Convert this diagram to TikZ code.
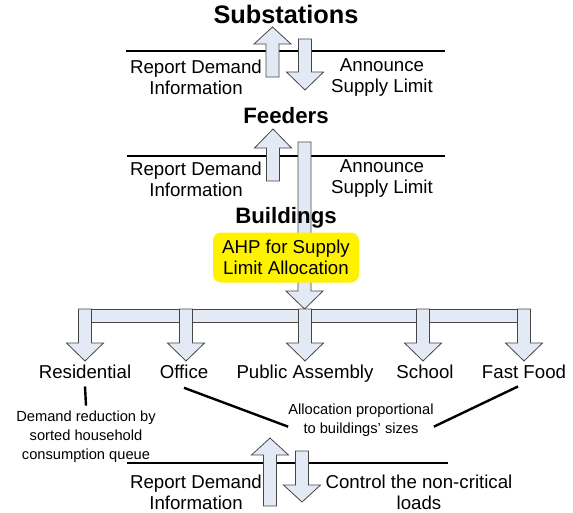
\documentclass[tikz,border=0pt]{standalone}
\usepackage{fontspec}
\setmainfont{Liberation Sans}
\usetikzlibrary{positioning}
\definecolor{arrowfill}{RGB}{228,234,245}
\definecolor{arrowline}{RGB}{70,70,70}
% block arrow: x, tail y, head base y, tip y
\newcommand{\blkarrow}[4]{%
  \draw[blk] (#1-6.5,#2) -- (#1+6.5,#2) -- (#1+6.5,#3) -- (#1+18.5,#3)
    -- (#1,#4) -- (#1-18.5,#3) -- (#1-6.5,#3) -- cycle;}

\begin{document}
\begin{tikzpicture}[x=0.75pt,y=-0.75pt,
    every node/.style={font=\fontsize{14}{15.75}\selectfont,align=center,inner sep=0pt},
    blk/.style={draw=arrowline,fill=arrowfill,line width=0.6pt},
    level/.style={line width=1.9pt},
    conn/.style={line width=1.8pt},
    heading/.style={font=\bfseries\fontsize{16.7}{20}\selectfont,anchor=base},
    small/.style={font=\fontsize{11}{14.25}\selectfont},
    ahpbox/.style={fill=yellow,rounded corners=6pt,minimum width=109.5pt,minimum height=37.5pt,
      font=\fontsize{14}{15.75}\selectfont}]
      \useasboundingbox (0,0) rectangle (573,512);

      % levels
      \draw[level] (126,51) -- (445,51);
      \draw[level] (127,156) -- (445,156);
      \draw[level] (127,463) -- (448,463);

      % substations <-> feeders
      \blkarrow{272.5}{77}{44}{27}
      \blkarrow{305}{39}{72}{90}

      % feeders <-> buildings
      \blkarrow{273}{181}{148}{129}
      \blkarrow{304.5}{142}{291}{309}

      % distribution to building types
      \draw[blk] (79,309) rectangle (530,322);
      \blkarrow{85}{309}{343}{361}
      \blkarrow{186}{309}{343}{361}
      \blkarrow{305}{309}{343}{361}
      \blkarrow{423}{309}{343}{361}
      \blkarrow{524}{309}{343}{361}

      % buildings <-> loads
      \blkarrow{270}{506}{455}{438}
      \blkarrow{302}{451}{485}{502}

      \node[heading,font=\bfseries\fontsize{19}{22}\selectfont] (substations) at (286,23) {Substations};
      \node (report1) at (196,77.5) {Report Demand\\Information};
      \node (announce1) at (382,77.5) {Announce\\Supply Limit};

      \node[heading] (feeders) at (286,123) {Feeders};
      \node (report2) at (196,179) {Report Demand\\Information};
      \node (announce2) at (382,179) {Announce\\Supply Limit};

      \node[heading] (buildings) at (286,223) {Buildings};
      \node[ahpbox] (ahp) at (286,257.5) {AHP for Supply\\Limit Allocation};

      \node[anchor=base] (resi) at (85,378) {Residential};
      \node[anchor=base] (office) at (184,378) {Office};
      \node[anchor=base] (public) at (305,378) {Public Assembly};
      \node[anchor=base] (school) at (425,378) {School};
      \node[anchor=base] (fastfood) at (524,378) {Fast Food};

      \node[small] (demandred) at (86,437) {Demand reduction by\\sorted household\\consumption queue};
      \node[small] (alloc) at (361,420) {Allocation proportional\\to buildings' sizes};

      \node (report3) at (196,492) {Report Demand\\Information};
      \node (control) at (419,492) {Control the non-critical\\loads};

      \draw[conn] ([yshift=-6pt]resi.south) -- ([yshift=4pt]demandred.north);
      \draw[conn] ([yshift=-7pt]office.south) -- ([yshift=-5pt]alloc.west);
      \draw[conn] ([xshift=-4.5pt,yshift=-6pt]fastfood.south) -- ([yshift=-5pt]alloc.east);

    \end{tikzpicture}
\end{document}
